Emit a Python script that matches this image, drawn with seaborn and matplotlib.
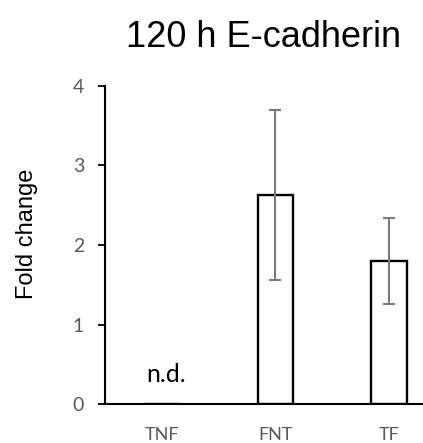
import matplotlib
matplotlib.use("Agg")
import matplotlib.pyplot as plt
import seaborn as sns
import pandas as pd

categories = ["TNF", "FNT", "TF"]
values = [0.0, 2.63, 1.80]
errors = [0.0, 1.07, 0.54]
yticks = [0, 1, 2, 3, 4]

sns.set_style("white")
plt.rcParams["font.family"] = ["Liberation Sans", "DejaVu Sans"]

fig = plt.figure(figsize=(4.23, 4.43), dpi=100)
ax = fig.add_axes([105/423, 1 - 404.3/443, 318/423, 318.6/443])

df = pd.DataFrame({"cat": categories, "val": values})
sns.barplot(data=df, x="cat", y="val", ax=ax, color="white", edgecolor="black",
            linewidth=1.7, width=0.314, errorbar=None, saturation=1)

ax.errorbar([1, 2], values[1:], yerr=errors[1:], fmt="none", ecolor="#7a7a7a",
            elinewidth=1.5, capsize=4.0, capthick=1.5)

ax.set_xlim(-0.5, 2.3)
ax.set_ylim(0, 4)
ax.set_yticks(yticks)
ax.set_yticklabels([str(t) for t in yticks], family="Lato", fontsize=14, color="#595959")
ax.set_xticks(range(len(categories)))
ax.set_xticklabels(categories, family="Lato", fontsize=13, color="#595959")
ax.tick_params(axis="y", length=5, width=1.3, color="black", pad=10, left=True, direction="out")
ax.tick_params(axis="x", length=0, pad=16)

for s in ["top", "right"]:
    ax.spines[s].set_visible(False)
for s in ["left", "bottom"]:
    ax.spines[s].set_color("black")
    ax.spines[s].set_linewidth(1.5)

ax.set_xlabel("")
ax.set_ylabel("Fold change", fontsize=17, color="black")
ax.yaxis.set_label_coords(-0.21, 0.534)

ax.set_title("120 h E-cadherin", fontsize=26, color="black", pad=28)

ax.text(0.04, 0.28, "n.d.", ha="center", va="baseline", family="Lato", fontsize=18, color="black")

fig.savefig("out.png", dpi=100)
